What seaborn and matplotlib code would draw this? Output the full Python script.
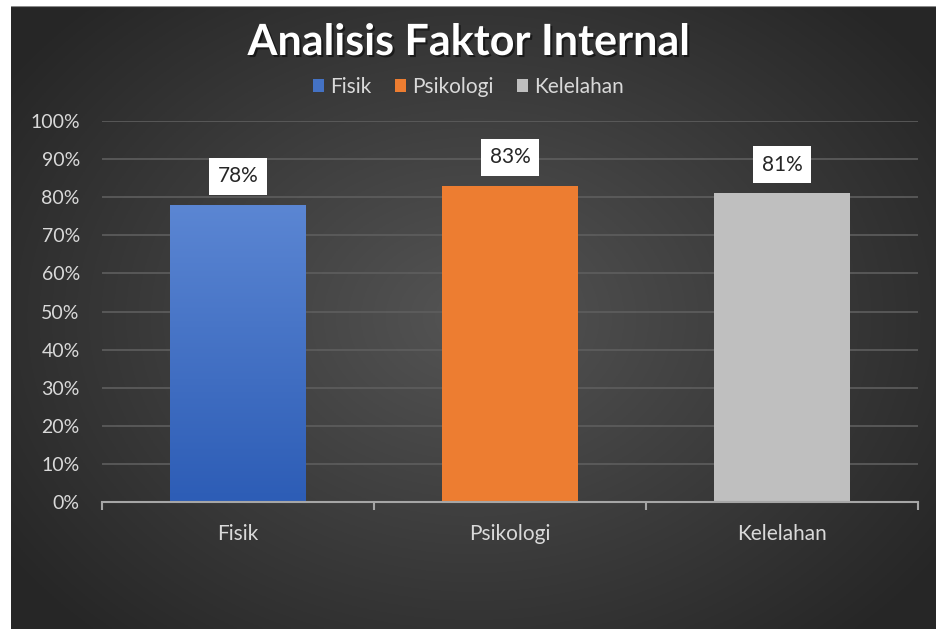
import numpy as np
import matplotlib
matplotlib.use("Agg")
import matplotlib.pyplot as plt
from matplotlib.patches import Patch
from matplotlib.ticker import PercentFormatter
import matplotlib.patheffects as pe
import seaborn as sns

# data
categories = ["Fisik", "Psikologi", "Kelelahan"]
values = [0.78, 0.83, 0.81]
colors = ["#4472C4", "#ED7D31", "#BFBFBF"]
title = "Analisis Faktor Internal"

sns.set_theme(style="dark")
plt.rcParams['font.family'] = ['Lato', 'DejaVu Sans']

W, H = 937, 629
fig = plt.figure(figsize=(W / 100, H / 100), dpi=100)
fig.patch.set_facecolor("white")

# dark radial background
bg = fig.add_axes([11 / W, 0, (W - 11) / W, (H - 6) / H])
yy, xx = np.mgrid[0:1:300j, 0:1:450j]
r = np.sqrt(((xx - 0.5) / 0.75) ** 2 + ((yy - 0.5) / 0.85) ** 2)
shade = np.clip(0.33 - 0.22 * r, 0.15, 0.33)
bg.imshow(np.dstack([shade] * 3), aspect="auto", extent=[0, 1, 0, 1])
bg.set_axis_off()
bg.add_line(plt.Line2D([0, 1], [1, 1], color="#8a8a8a", lw=1.5, transform=bg.transAxes))

ax = fig.add_axes([102 / W, 1 - 502 / H, 816 / W, 381 / H])
ax.set_facecolor("none")

sns.barplot(x=categories, y=values, hue=categories, palette=colors,
            width=0.5, legend=False, ax=ax, saturation=1, zorder=3, linewidth=0)

# gradient on the blue bar
blue = ax.patches[0]
bx, bw, bh = blue.get_x(), blue.get_width(), blue.get_height()
grad = np.linspace(0, 1, 100).reshape(-1, 1)
cmap = matplotlib.colors.LinearSegmentedColormap.from_list("b", ["#5B86D3", "#2D5DB6"])
im = ax.imshow(grad, cmap=cmap, aspect="auto", extent=[bx, bx + bw, 0, bh],
               zorder=3.5, origin="upper")
im.set_clip_path(blue)

ax.set_xlim(-0.5, 2.5)
ax.set_ylim(0, 1.0)
ax.set_yticks(np.arange(0, 1.01, 0.1))
ax.yaxis.set_major_formatter(PercentFormatter(1.0, decimals=0))
ax.grid(axis="y", color="#5e5e5e", lw=1.2, zorder=0)
ax.grid(axis="x", visible=False)
for s in ["top", "right", "left"]:
    ax.spines[s].set_visible(False)
ax.spines["bottom"].set_color("#a6a6a6")
ax.spines["bottom"].set_linewidth(1.5)
ax.spines["bottom"].set_zorder(5)

ax.set_xticks([-0.5, 0.5, 1.5, 2.5], minor=True)
ax.tick_params(axis="x", which="minor", length=6, width=1.5, color="#a6a6a6", direction="out", bottom=True)
ax.tick_params(axis="x", which="major", length=0, pad=16, labelsize=15, labelcolor="#d9d9d9")
ax.tick_params(axis="y", length=0, pad=16, labelsize=14, labelcolor="#d9d9d9")
ax.set_xlabel("")
ax.set_ylabel("")

for i, v in enumerate(values):
    ax.text(i, v + 0.075, f"{v:.0%}", ha="center", va="center", fontsize=15,
            color="#262626", zorder=6,
            bbox=dict(boxstyle="square,pad=0.4", fc="white", ec="none"))

fig.text(0.5, 1 - 42 / H, title, ha="center", va="center", fontsize=31,
         fontweight="bold", color="white",
         path_effects=[pe.withSimplePatchShadow(offset=(1.5, -1.5), shadow_rgbFace="black", alpha=0.5)])

handles = [Patch(facecolor=c, edgecolor="none") for c in colors]
fig.legend(handles, categories, loc="center", bbox_to_anchor=(0.5, 1 - 87 / H),
           ncol=3, frameon=False, fontsize=15, labelcolor="#d9d9d9",
           handlelength=0.55, handleheight=0.55, handletextpad=0.3, columnspacing=1.1)

fig.savefig("out.png", dpi=100, facecolor=fig.get_facecolor())
